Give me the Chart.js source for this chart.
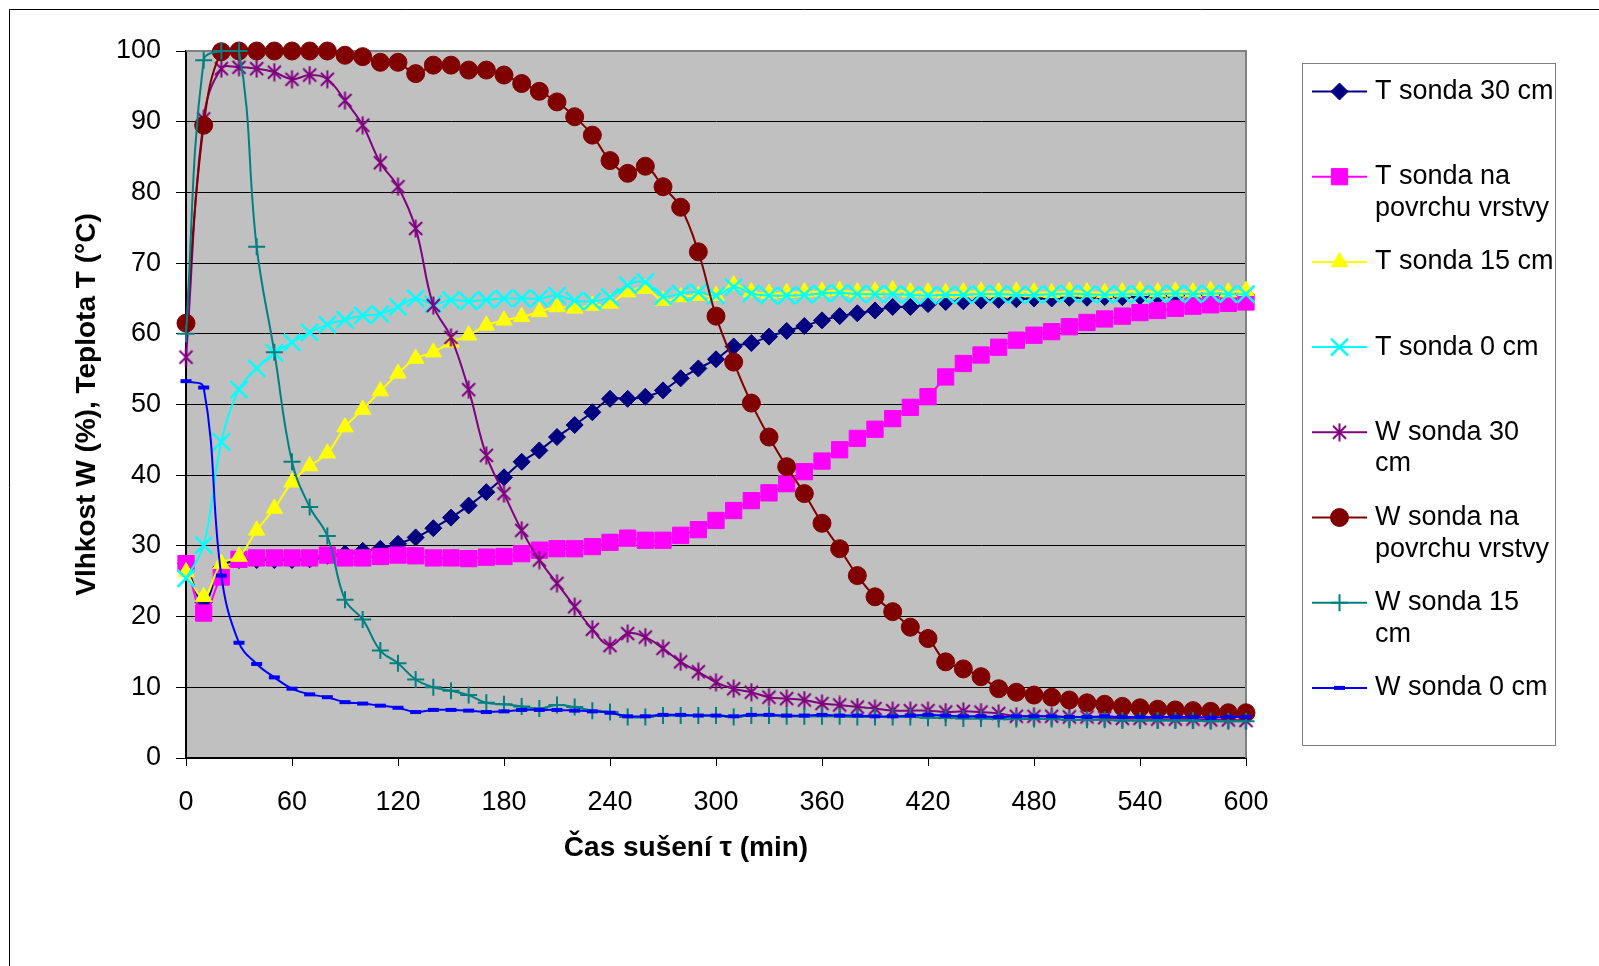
<!DOCTYPE html>
<html>
<head>
<meta charset="utf-8">
<title>Vlhkost a teplota při sušení</title>
<script src="https://cdn.jsdelivr.net/npm/chart.js@4.4.0/dist/chart.umd.min.js"></script>
<style>
  html, body { margin: 0; padding: 0; background: #fff; }
  #wrap { width: 1599px; height: 966px; }
</style>
</head>
<body>
<div id="wrap"><canvas id="myChart" width="1599" height="966"></canvas></div>
<script>
// cas suseni (min)
const casMin = [0, 10, 20, 30, 40, 50, 60, 70, 80, 90,
  100, 110, 120, 130, 140, 150, 160, 170, 180, 190,
  200, 210, 220, 230, 240, 250, 260, 270, 280, 290,
  300, 310, 320, 330, 340, 350, 360, 370, 380, 390,
  400, 410, 420, 430, 440, 450, 460, 470, 480, 490,
  500, 510, 520, 530, 540, 550, 560, 570, 580, 590, 600];

// teploty (°C)
const tSonda30 = [27.5, 22.0, 27.0, 28.0, 28.0, 28.0, 28.0, 28.1, 28.6, 28.9,
  29.3, 29.6, 30.3, 31.2, 32.5, 34.0, 35.7, 37.6, 39.7, 41.9,
  43.5, 45.4, 47.1, 48.9, 50.8, 50.8, 51.1, 52.0, 53.7, 55.1,
  56.4, 58.2, 58.7, 59.6, 60.4, 61.1, 61.9, 62.5, 62.9, 63.3,
  63.8, 63.8, 64.2, 64.5, 64.6, 64.7, 64.8, 64.9, 65.0, 65.0,
  65.1, 65.1, 65.2, 65.2, 65.3, 65.3, 65.4, 65.4, 65.5, 65.5, 65.5];
const tSondaPovrch = [27.5, 20.5, 25.6, 28.1, 28.3, 28.3, 28.3, 28.3, 28.7, 28.3,
  28.3, 28.5, 28.7, 28.6, 28.3, 28.3, 28.2, 28.4, 28.5, 28.9,
  29.4, 29.6, 29.6, 29.9, 30.5, 31.1, 30.8, 30.8, 31.5, 32.3,
  33.6, 35.0, 36.4, 37.5, 38.8, 40.5, 42.0, 43.6, 45.2, 46.5,
  48.0, 49.6, 51.1, 53.9, 55.8, 57.0, 58.1, 59.1, 59.8, 60.3,
  61.0, 61.6, 62.1, 62.5, 63.0, 63.3, 63.6, 63.9, 64.1, 64.3, 64.5];
const tSonda15 = [26.3, 22.8, 27.5, 28.5, 32.2, 35.3, 39.0, 41.3, 43.1, 46.8,
  49.3, 51.9, 54.4, 56.5, 57.4, 58.8, 59.8, 61.2, 61.9, 62.4,
  63.1, 63.8, 63.6, 64.0, 64.3, 65.9, 66.4, 64.7, 65.2, 65.4,
  65.4, 66.9, 65.9, 65.7, 65.8, 65.9, 66.0, 66.1, 65.9, 66.0,
  66.2, 65.9, 65.9, 65.8, 65.9, 66.0, 65.9, 66.0, 65.9, 65.8,
  66.0, 65.9, 65.8, 65.9, 66.1, 65.9, 66.0, 65.9, 66.1, 65.9, 66.1];
const tSonda0 = [25.4, 30.1, 44.7, 52.1, 55.1, 57.3, 58.8, 60.2, 61.3, 62.0,
  62.6, 62.8, 63.8, 65.0, 64.2, 64.8, 64.6, 64.8, 65.0, 65.0,
  65.0, 65.4, 64.7, 64.6, 65.2, 66.9, 67.3, 65.3, 65.7, 65.9,
  65.4, 66.6, 65.7, 65.4, 65.4, 65.5, 65.7, 65.8, 65.6, 65.6,
  65.6, 65.5, 65.4, 65.5, 65.5, 65.6, 65.6, 65.5, 65.5, 65.6,
  65.7, 65.6, 65.5, 65.6, 65.6, 65.6, 65.7, 65.6, 65.7, 65.6, 65.6];

// vlhkosti (%)
const wSonda30 = [56.7, 90.4, 97.5, 97.7, 97.5, 97.0, 96.0, 96.6, 96.0, 93.0,
  89.5, 84.2, 80.8, 74.9, 64.0, 59.5, 52.1, 42.8, 37.4, 32.2,
  28.0, 24.7, 21.4, 18.2, 15.9, 17.6, 17.1, 15.5, 13.6, 12.2,
  10.7, 9.8, 9.3, 8.6, 8.4, 8.2, 7.7, 7.5, 7.2, 7.0,
  6.7, 6.7, 6.7, 6.5, 6.6, 6.5, 6.3, 5.9, 5.9, 5.9,
  5.8, 5.8, 5.7, 5.6, 5.6, 5.5, 5.5, 5.5, 5.4, 5.4, 5.3];
const wSondaPovrch = [61.5, 89.5, 99.9, 100, 100, 100, 100, 100, 100, 99.4,
  99.2, 98.4, 98.4, 96.8, 98.0, 98.0, 97.3, 97.3, 96.6, 95.4,
  94.3, 92.8, 90.7, 88.1, 84.5, 82.7, 83.7, 80.8, 77.9, 71.6,
  62.5, 56.0, 50.2, 45.4, 41.2, 37.4, 33.2, 29.6, 25.8, 22.8,
  20.7, 18.5, 16.9, 13.6, 12.6, 11.5, 9.8, 9.3, 8.9, 8.6,
  8.2, 7.8, 7.6, 7.3, 7.1, 6.9, 6.8, 6.7, 6.6, 6.4, 6.4];
const wSonda15 = [60.0, 98.7, 100, 100, 72.3, 57.4, 41.9, 35.5, 31.4, 22.4,
  19.6, 15.2, 13.4, 11.1, 10.0, 9.5, 8.9, 7.8, 7.6, 7.3,
  7.0, 7.5, 7.2, 6.7, 6.5, 5.8, 5.8, 6.0, 6.0, 6.0,
  6.0, 5.8, 6.0, 6.0, 5.9, 5.9, 5.9, 5.9, 5.8, 5.8,
  5.8, 5.8, 5.7, 5.7, 5.6, 5.6, 5.5, 5.5, 5.5, 5.5,
  5.4, 5.4, 5.4, 5.3, 5.3, 5.3, 5.3, 5.3, 5.2, 5.2, 5.2];
const wSonda0 = [53.3, 52.4, 25.8, 16.3, 13.3, 11.4, 9.8, 9.0, 8.6, 7.9,
  7.7, 7.4, 7.1, 6.5, 6.8, 6.8, 6.7, 6.5, 6.6, 6.8,
  6.8, 6.8, 6.7, 6.6, 6.4, 5.9, 5.9, 6.1, 6.1, 6.0,
  6.0, 5.9, 6.1, 6.1, 6.0, 6.0, 6.1, 6.0, 6.0, 5.9,
  5.9, 6.0, 6.1, 6.0, 5.9, 5.9, 5.8, 5.9, 5.9, 5.9,
  5.8, 5.8, 5.9, 5.8, 5.8, 5.8, 5.8, 5.8, 5.7, 5.8, 5.8];

// nazvy serii (radky legendy)
const nazvy = [
  ['T sonda 30 cm'],
  ['T sonda na', 'povrchu vrstvy'],
  ['T sonda 15 cm'],
  ['T sonda 0 cm'],
  ['W sonda 30', 'cm'],
  ['W sonda na', 'povrchu vrstvy'],
  ['W sonda 15', 'cm'],
  ['W sonda 0 cm']
];

const osaX = 'Čas sušení τ (min)';
const osaY = 'Vlhkost W (%), Teplota T (°C)';
const font = '"Liberation Sans", Arial, sans-serif';

// hvezdicka jako v Excelu (X + svisla cara)
function hvezdicka(color) {
  const c = document.createElement('canvas');
  c.width = 17; c.height = 19;
  const g = c.getContext('2d');
  g.strokeStyle = color;
  g.lineWidth = 2;
  g.beginPath();
  g.moveTo(2, 3); g.lineTo(15, 16);
  g.moveTo(15, 3); g.lineTo(2, 16);
  g.moveTo(8.5, 0.5); g.lineTo(8.5, 18.5);
  g.stroke();
  return c;
}

function serie(values, color, style, radius, bw) {
  return {
    data: casMin.map((t, i) => ({ x: t, y: values[i] })),
    borderColor: color,
    backgroundColor: color,
    borderWidth: 2,
    pointStyle: style,
    pointRadius: radius,
    pointBackgroundColor: color,
    pointBorderColor: color,
    pointBorderWidth: bw,
    tension: 0.4,
    clip: false
  };
}

const datasets = [
  serie(tSonda30, '#000080', 'rectRot', 8.5, 1),
  serie(tSondaPovrch, '#FF00FF', 'rect', 11.5, 1),
  serie(tSonda15, '#FFFF00', 'triangle', 9.5, 1),
  serie(tSonda0, '#00FFFF', 'crossRot', 12, 2.5),
  serie(wSonda30, '#800080', hvezdicka('#800080'), 9, 2),
  serie(wSondaPovrch, '#800000', 'circle', 9, 1),
  serie(wSonda15, '#008080', 'cross', 8.5, 2),
  serie(wSonda0, '#0000FF', 'line', 5.5, 4)
];
// Excel kresli pozdejsi serie nahoru
datasets.forEach((d, i) => { d.order = datasets.length - i; });

const pozadi = {
  id: 'pozadi',
  beforeDraw(chart) {
    const { ctx, chartArea: a } = chart;
    ctx.save();
    ctx.fillStyle = '#fff';
    ctx.fillRect(0, 0, chart.width, chart.height);
    ctx.strokeStyle = '#000';
    ctx.lineWidth = 1;
    ctx.beginPath();
    ctx.moveTo(9.5, chart.height);
    ctx.lineTo(9.5, 9.5);
    ctx.lineTo(chart.width, 9.5);
    ctx.stroke();
    ctx.fillStyle = '#C0C0C0';
    ctx.fillRect(a.left, a.top, a.right - a.left, a.bottom - a.top);
    ctx.restore();
  },
  beforeDatasetsDraw(chart) {
    const { ctx, chartArea: a } = chart;
    ctx.save();
    ctx.strokeStyle = '#808080';
    ctx.lineWidth = 2;
    ctx.beginPath();
    ctx.moveTo(a.left, a.top);
    ctx.lineTo(a.right, a.top);
    ctx.lineTo(a.right, a.bottom);
    ctx.stroke();
    ctx.restore();
  },
  afterDraw(chart) {
    // nazev osy x: v Excelu je vystredeny na celou oblast grafu, ne jen na osu
    const ctx = chart.ctx;
    ctx.save();
    ctx.fillStyle = '#000';
    ctx.font = 'bold 28px ' + font;
    ctx.textAlign = 'center';
    ctx.textBaseline = 'middle';
    ctx.fillText(osaX, 686, 848);
    ctx.restore();
  }
};

const legenda = {
  id: 'legenda',
  afterDraw(chart) {
    const ctx = chart.ctx;
    ctx.save();
    ctx.strokeStyle = '#808080';
    ctx.lineWidth = 1;
    ctx.strokeRect(1302.5, 63.5, 253, 682);
    chart.data.datasets.forEach((ds, i) => {
      const y = 91.5 + i * 85.2;
      ctx.strokeStyle = ds.borderColor;
      ctx.lineWidth = 2;
      ctx.beginPath();
      ctx.moveTo(1312, y);
      ctx.lineTo(1367, y);
      ctx.stroke();
      ctx.fillStyle = ds.pointBackgroundColor;
      ctx.strokeStyle = ds.pointBorderColor;
      ctx.lineWidth = ds.pointBorderWidth;
      Chart.helpers.drawPoint(ctx, {
        pointStyle: ds.pointStyle,
        radius: ds.pointRadius,
        rotation: 0,
        borderWidth: ds.pointBorderWidth
      }, 1339.5, y);
      ctx.fillStyle = '#000';
      ctx.font = '27px ' + font;
      ctx.textAlign = 'left';
      ctx.textBaseline = 'middle';
      nazvy[i].forEach((radek, k) => ctx.fillText(radek, 1375, y + k * 31.6));
    });
    ctx.restore();
  }
};

new Chart('myChart', {
  type: 'line',
  data: { datasets: datasets },
  plugins: [pozadi, legenda],
  options: {
    responsive: false,
    animation: false,
    events: [],
    layout: { padding: { top: 51, right: 353, left: 0, bottom: 0 } },
    plugins: {
      legend: { display: false },
      tooltip: { enabled: false }
    },
    scales: {
      x: {
        type: 'linear',
        min: 0,
        max: 600,
        afterFit: (s) => { s.height = 208; },
        ticks: {
          stepSize: 60,
          color: '#000',
          padding: 20,
          maxRotation: 0,
          font: { family: font, size: 27 }
        },
        grid: { drawOnChartArea: false, drawTicks: true, tickLength: 8, color: '#000', lineWidth: 1 },
        border: { color: '#000', width: 2 },
        title: { display: false, text: osaX }
      },
      y: {
        min: 0,
        max: 100,
        afterFit: (s) => { s.width = 186; },
        ticks: {
          stepSize: 10,
          color: '#000',
          padding: 15,
          font: { family: font, size: 27 }
        },
        grid: { color: '#000', lineWidth: 1, drawTicks: true, tickLength: 10 },
        border: { color: '#000', width: 2 },
        title: {
          display: true,
          text: osaY,
          color: '#000',
          font: { family: font, size: 28, weight: 'bold' },
          padding: { top: 70, bottom: 0 }
        }
      }
    }
  }
});
</script>
</body>
</html>
